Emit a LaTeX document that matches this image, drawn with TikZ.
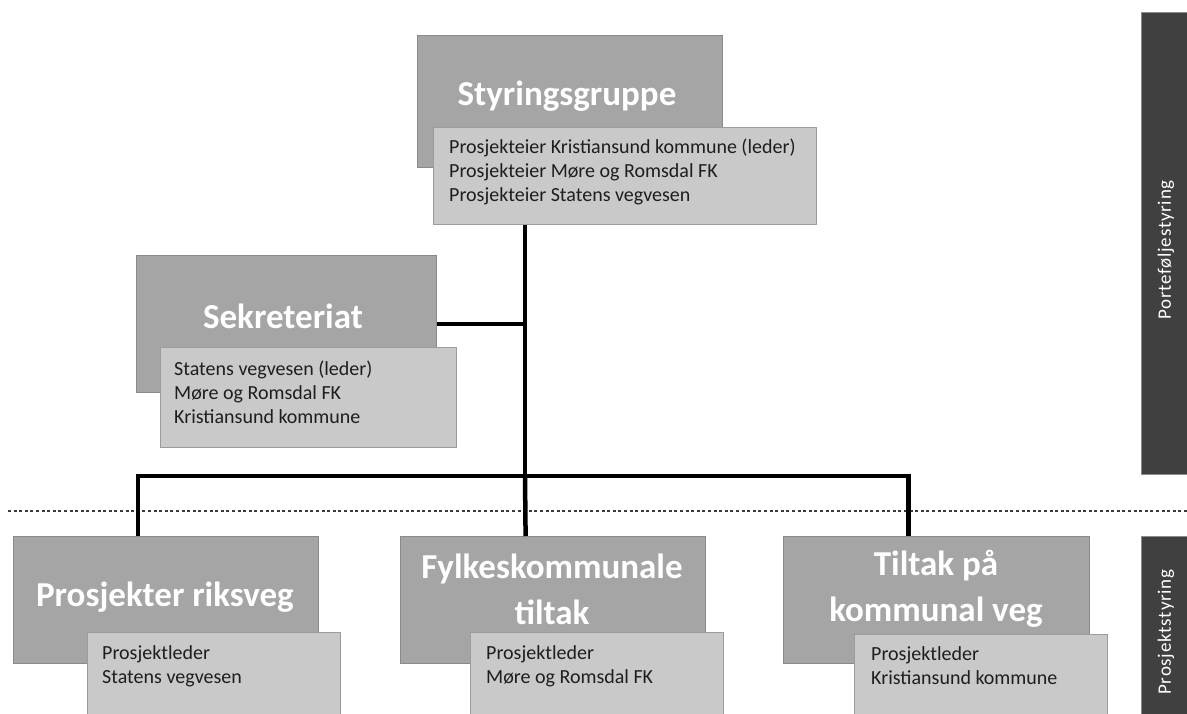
\documentclass[tikz,border=0pt]{standalone}
\usepackage{fontspec}
\setmainfont{Carlito}
\newfontfamily\sidefont[LetterSpace=4]{Carlito}
\begin{document}
\begin{tikzpicture}[x=1pt,y=-1pt,
  darkbox/.style={draw=boxline,fill=boxdark,line width=1.2pt,inner sep=0pt,anchor=north west},
  detailbox/.style={draw=detline,fill=boxlight,line width=1.2pt,inner sep=0pt,anchor=north west},
  titletext/.style={text=white,font=\fontsize{35}{46}\selectfont\bfseries,align=center,inner sep=0pt},
  dtext/.style={text=txtdark,font=\fontsize{20}{24}\selectfont,align=left,inner sep=0pt,anchor=north west},
  sidebar/.style={draw=sideline,fill=sidedark,line width=1pt,inner sep=0pt,anchor=north west},
  sidetext/.style={text=white,font=\sidefont\fontsize{19}{22}\selectfont,rotate=90,inner sep=0pt},
  conn/.style={line width=4.5pt,draw=black,line join=miter},
  divider/.style={draw=divcol,line width=1.6pt,dash pattern=on 3pt off 2.6pt}
]
\definecolor{boxdark}{HTML}{A5A5A5}
\definecolor{boxline}{HTML}{8A8A8A}
\definecolor{boxlight}{HTML}{C9C9C9}
\definecolor{detline}{HTML}{9C9C9C}
\definecolor{txtdark}{HTML}{1E1E1E}
\definecolor{sidedark}{HTML}{404040}
\definecolor{sideline}{HTML}{8C8C8C}
\definecolor{divcol}{HTML}{3A3A3A}

\useasboundingbox[fill=white] (0,0) rectangle (1187,713);

% side bars
\node[sidebar,minimum width=52pt,minimum height=462pt] (portbar) at (1141,12) {};
\node[sidetext] (porttxt) at (1166,250) {Porteføljestyring};
\node[sidebar,minimum width=52pt,minimum height=182pt] (prosbar) at (1141,536) {};
\node[sidetext] (prostxt) at (1166,632) {Prosjektstyring};

% divider
\coordinate (divL) at (8,511);
\coordinate (divR) at (1187,511);
\draw[divider] (divL) -- (divR);

% Styringsgruppe
\node[darkbox,minimum width=305pt,minimum height=132pt] (styr) at (417,35) {};
\node[titletext] (styrt) at (567,96) {Styringsgruppe};
\node[detailbox,minimum width=383pt,minimum height=97pt] (styrd) at (433,127) {};
\node[dtext] (styrdt) at (449,139) {Prosjekteier Kristiansund kommune (leder)\\Prosjekteier Møre og Romsdal FK\\Prosjekteier Statens vegvesen};

% Sekreteriat
\node[darkbox,minimum width=300pt,minimum height=137pt] (sekr) at (136,255) {};
\node[titletext] (sekrt) at (283,316) {Sekreteriat};
\node[detailbox,minimum width=296pt,minimum height=100pt] (sekrd) at (160,347) {};
\node[dtext] (sekrdt) at (174,361) {Statens vegvesen (leder)\\Møre og Romsdal FK\\Kristiansund kommune};

% bottom row
\node[darkbox,minimum width=305pt,minimum height=127pt] (riks) at (13,536) {};
\node[titletext] (rikst) at (165,597) {Prosjekter riksveg};
\node[detailbox,minimum width=253pt,minimum height=90pt] (riksd) at (87,632) {};
\node[dtext] (riksdt) at (102,645) {Prosjektleder\\Statens vegvesen};

\node[darkbox,minimum width=305pt,minimum height=127pt] (fylk) at (400,536) {};
\node[titletext] (fylkt) at (552,589) {Fylkeskommunale\\tiltak};
\node[detailbox,minimum width=253pt,minimum height=90pt] (fylkd) at (470,632) {};
\node[dtext] (fylkdt) at (486,645) {Prosjektleder\\Møre og Romsdal FK};

\node[darkbox,minimum width=306pt,minimum height=127pt] (tilt) at (783,536) {};
\node[titletext] (tiltt) at (936,589) {Tiltak på\\kommunal veg};
\node[detailbox,minimum width=253pt,minimum height=90pt] (tiltd) at (854,634) {};
\node[dtext] (tiltdt) at (871,646) {Prosjektleder\\Kristiansund kommune};

% connectors
\coordinate (bus) at (525,476);
\draw[conn] (styrd.south -| bus) -- (bus);
\draw[conn] (sekr.east) -- (sekr.east -| bus);
\draw[conn] ([xshift=-28pt]riks.north) |- (bus) -| ([xshift=-28pt]tilt.north);
\draw[conn] (bus) -- ([xshift=-27.5pt]fylk.north);
\end{tikzpicture}
\end{document}
